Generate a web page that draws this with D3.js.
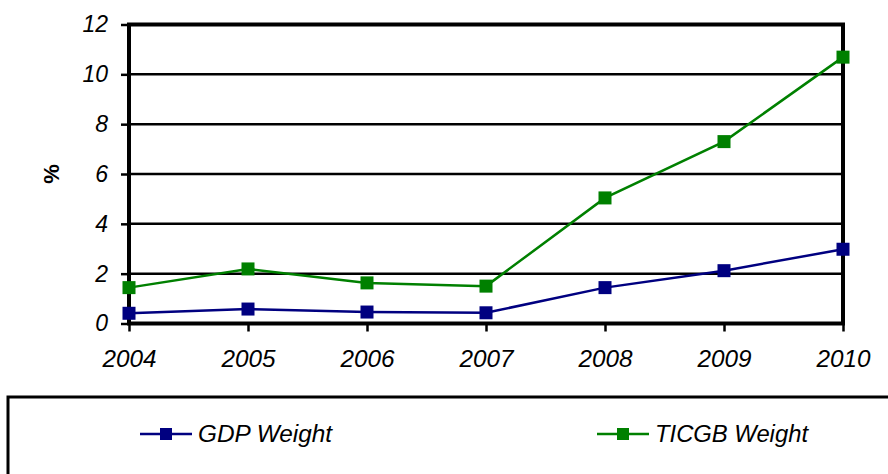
<!DOCTYPE html>
<html>
<head>
<meta charset="utf-8">
<script src="https://cdn.jsdelivr.net/npm/d3@7"></script>
<style>
  body { margin: 0; background: #fff; }
  text { font-family: "Liberation Sans", Arial, sans-serif; }
</style>
</head>
<body>
<div id="chart"></div>
<script>
const years = ['2004', '2005', '2006', '2007', '2008', '2009', '2010']
const gdpWeight = [0.41, 0.58, 0.46, 0.43, 1.44, 2.12, 2.98]
const ticgbWeight = [1.44, 2.19, 1.63, 1.5, 5.04, 7.3, 10.69]
const yTicks = [0, 2, 4, 6, 8, 10, 12]

const series = [
  { name: 'GDP Weight', values: gdpWeight, color: '#000080' },
  { name: 'TICGB Weight', values: ticgbWeight, color: '#008000' }
]

const W = 888, H = 474
const margin = { top: 24.5, left: 129, right: 45, bottom: 150.5 }
const width = W - margin.left - margin.right
const height = H - margin.top - margin.bottom

const root = d3.select('#chart').append('svg')
    .attr('width', W)
    .attr('height', H)

const svg = root.append('g')
    .attr('transform', 'translate(' + margin.left + ',' + margin.top + ')')

const x = d3.scalePoint().domain(years).range([0, width])
const y = d3.scaleLinear().domain([0, 12]).range([height, 0])

// gridlines
svg.selectAll('.grid')
    .data(yTicks.filter(d => d > 0 && d < 12))
    .enter().append('line')
    .attr('x1', 0).attr('x2', width)
    .attr('y1', d => y(d)).attr('y2', d => y(d))
    .attr('stroke', '#000')
    .attr('stroke-width', 2.5)

// frame
svg.append('rect')
    .attr('x', 0).attr('y', 0)
    .attr('width', width).attr('height', height)
    .attr('fill', 'none')
    .attr('stroke', '#000')
    .attr('stroke-width', 4)

// y axis
const yAxis = svg.append('g')
    .call(d3.axisLeft(y).tickValues(yTicks).tickSize(8).tickPadding(13))
yAxis.select('.domain').remove()
yAxis.selectAll('.tick line').attr('stroke', '#000').attr('stroke-width', 2.5)
yAxis.selectAll('text')
    .attr('font-size', 23)
    .attr('font-style', 'italic')
    .attr('fill', '#000')

// x axis
const xAxis = svg.append('g')
    .attr('transform', 'translate(0,' + height + ')')
    .call(d3.axisBottom(x).tickSize(8).tickPadding(19))
xAxis.select('.domain').remove()
xAxis.selectAll('.tick line').attr('stroke', '#000').attr('stroke-width', 2.5)
xAxis.selectAll('text')
    .attr('font-size', 23)
    .attr('font-style', 'italic')
    .attr('fill', '#000')
    .attr('textLength', 54)
    .attr('lengthAdjust', 'spacingAndGlyphs')

// y label
root.append('text')
    .attr('transform', 'translate(59,' + (margin.top + height / 2) + ') rotate(-90)')
    .attr('text-anchor', 'middle')
    .attr('font-size', 22)
    .attr('font-weight', 'bold')
    .text('%')

const line = d3.line()
    .x((d, i) => x(years[i]))
    .y(d => y(d))

series.forEach(function(s) {
  svg.append('path')
      .datum(s.values)
      .attr('fill', 'none')
      .attr('stroke', s.color)
      .attr('stroke-width', 2.5)
      .attr('d', line)

  svg.selectAll('.pt-' + s.name.replace(' ', ''))
      .data(s.values)
      .enter().append('rect')
      .attr('x', (d, i) => x(years[i]) - 6.5)
      .attr('y', d => y(d) - 6.5)
      .attr('width', 13)
      .attr('height', 13)
      .attr('fill', s.color)
})

// legend
root.append('rect')
    .attr('x', 8).attr('y', 397)
    .attr('width', 900).attr('height', 100)
    .attr('fill', '#fff')
    .attr('stroke', '#000')
    .attr('stroke-width', 3)

const legendX = [140, 597]
const legend = root.selectAll('.legend')
    .data(series)
    .enter().append('g')
    .attr('transform', (d, i) => 'translate(' + legendX[i] + ',434)')

legend.append('line')
    .attr('x1', 0).attr('x2', 52)
    .attr('stroke', d => d.color)
    .attr('stroke-width', 2.5)
legend.append('rect')
    .attr('x', 20).attr('y', -6)
    .attr('width', 12).attr('height', 12)
    .attr('fill', d => d.color)
legend.append('text')
    .attr('x', 58)
    .attr('dy', '0.35em')
    .attr('font-size', 23)
    .attr('font-style', 'italic')
    .attr('textLength', d => d.name === 'GDP Weight' ? 134 : 153)
    .attr('lengthAdjust', 'spacingAndGlyphs')
    .text(d => d.name)
</script>
</body>
</html>
